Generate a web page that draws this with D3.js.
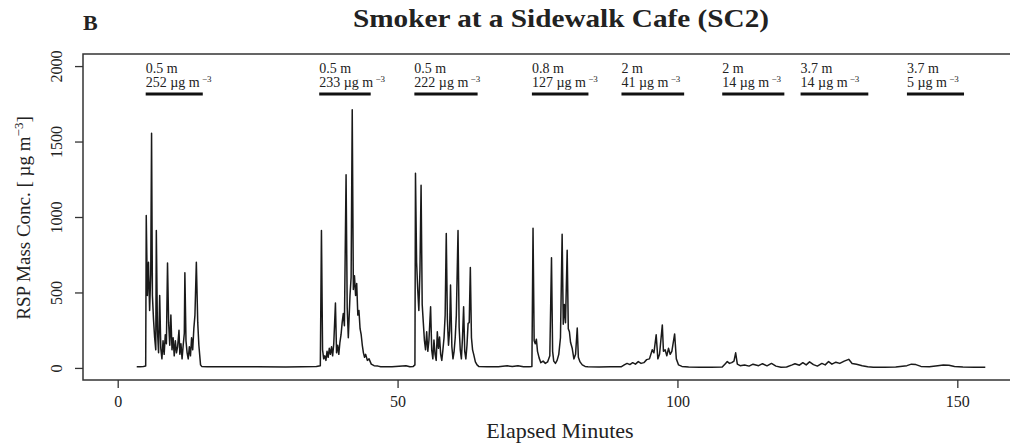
<!DOCTYPE html>
<html>
<head>
<meta charset="utf-8">
<script src="https://cdn.jsdelivr.net/npm/d3@7"></script>
<style>
  body { margin: 0; background: #fff; }
  text { font-family: "Liberation Serif", "Times New Roman", serif; fill: #222; }
</style>
</head>
<body>
<svg id="chart" width="1010" height="447"></svg>
<script>
// elapsed minute, RSP mass concentration (µg/m3)
const quiet0 = [[3.4,8],[4.0,8],[4.6,10],[5.0,12]];
const burst1 = [[5.1,1010],[5.3,480],[5.5,700],[5.7,380],[5.9,620],[6.05,1555],[6.2,480],[6.4,320],
  [6.6,200],[6.8,120],[6.9,910],[7.1,250],[7.3,100],[7.5,480],[7.7,130],[7.9,60],[8.1,180],[8.3,90],
  [8.5,220],[8.7,160],[8.9,695],[9.1,300],[9.3,150],[9.5,350],[9.7,120],[9.9,200],[10.1,80],[10.3,180],
  [10.5,100],[10.7,140],[10.95,250],[11.1,90],[11.3,160],[11.5,60],[11.7,150],[11.9,230],[12.0,630],
  [12.2,180],[12.4,100],[12.6,60],[12.8,140],[13.0,80],[13.2,200],[13.4,120],[13.6,260],[13.8,350],
  [14.05,700],[14.3,300],[14.5,150],[14.8,20],[15.0,10]];
const quiet1 = [[16,8],[18,7],[20,7],[25,8],[30,6],[33,8],[35.5,10],[36.2,15]];
const burst2 = [[36.4,910],[36.6,120],[36.8,60],[37.0,80],[37.2,50],[37.4,110],[37.6,70],[37.8,130],
  [38.0,90],[38.2,140],[38.4,80],[38.6,160],[38.9,430],[39.1,100],[39.3,150],[39.5,90],[39.7,170],
  [39.9,220],[40.1,300],[40.3,360],[40.5,280],[40.8,1280],[41.0,400],[41.2,200],[41.5,480],[41.7,600],
  [41.9,1710],[42.1,520],[42.3,610],[42.5,480],[42.7,560],[42.9,350],[43.1,380],[43.3,260],[43.5,220],
  [43.7,150],[43.9,100],[44.1,70],[44.3,90],[44.6,50],[44.9,60],[45.3,25],[45.8,15]];
const quiet2 = [[46.5,12],[47,8],[49,8],[51.5,15],[52.2,8],[52.8,10],[53.1,20]];
const burst3 = [[53.2,1290],[53.4,700],[53.6,520],[53.8,380],[54.0,650],[54.2,1210],[54.4,420],
  [54.6,300],[54.8,180],[55.0,120],[55.2,240],[55.4,110],[55.6,180],[55.9,405],[56.1,120],[56.3,60],
  [56.5,185],[56.7,90],[56.9,50],[57.1,240],[57.3,130],[57.5,205],[57.7,90],[57.9,50],[58.1,120],
  [58.3,200],[58.5,350],[58.7,890],[58.9,320],[59.1,150],[59.3,250],[59.46,550],[59.7,140],[59.9,60],
  [60.1,110],[60.3,200],[60.5,350],[60.8,910],[61.0,270],[61.2,120],[61.4,60],[61.6,200],[61.8,405],
  [62.0,110],[62.2,60],[62.4,150],[62.6,295],[62.8,300],[63.0,665],[63.2,200],[63.4,120],[63.6,90],
  [63.9,40],[64.2,20]];
const quiet3 = [[64.5,10],[66,8],[68,8],[69.6,14],[70.5,10],[71.5,15],[72.5,8],[73.5,8],[74.0,10]];
const burst4 = [[74.2,925],[74.4,180],[74.6,160],[74.8,190],[75.0,110],[75.3,65],[75.6,35],[76.0,45],
  [76.4,30],[76.8,40],[77.2,80],[77.5,730],[77.7,110],[77.9,45],[78.2,30],[78.5,50],[78.8,90],
  [79.1,200],[79.4,885],[79.6,290],[79.8,420],[80.0,300],[80.3,780],[80.5,260],[80.7,240],[80.9,170],
  [81.2,130],[81.5,60],[81.8,90],[82.1,265],[82.3,70],[82.6,40],[83.0,20],[83.5,10]];
const tail = [[84,8],[86,6],[88,7],[90,8],[90.5,20],[91,30],[91.5,22],[92,35],[92.5,25],[93,42],
  [93.5,30],[94,35],[94.5,55],[95,60],[95.5,120],[95.8,100],[96.2,220],[96.5,60],[96.8,90],[97.3,285],
  [97.5,110],[97.8,120],[98.1,80],[98.4,130],[98.7,90],[99.0,110],[99.5,225],[99.8,60],[100.2,20],
  [100.8,10],[102,6],[104,5],[106,5],[108,6],[108.6,30],[108.9,42],[109.3,30],[109.7,35],[110.1,45],
  [110.4,100],[110.7,25],[111.2,15],[112,20],[112.8,12],[113.5,25],[114.5,15],[115.2,28],[116,14],
  [116.8,30],[117.6,12],[118.5,5],[119.5,6],[120.5,20],[121,28],[121.8,18],[122.4,35],[123,20],
  [123.6,40],[124.3,22],[125,12],[125.8,30],[126.4,20],[127,42],[127.6,25],[128.3,38],[129,30],
  [129.8,45],[130.6,57],[131.2,30],[132,25],[133,15],[134,8],[135,5],[137,5],[139,6],[141,15],
  [141.8,25],[142.6,22],[143.5,10],[145,8],[146.5,15],[147.5,20],[148.5,18],[149.5,10],[151,6],
  [153,5],[155,5]];

// smoker-distance periods shown as bars at the top
const barStart = [5, 36, 53, 74, 90, 108, 122, 141];
const barEnd = [15.2, 45.2, 64.3, 84.1, 101.2, 119.1, 134.1, 151.2];
const distLabels = ['0.5 m', '0.5 m', '0.5 m', '0.8 m', '2 m', '2 m', '3.7 m', '3.7 m'];
const concLabels = ['252', '233', '222', '127', '41', '14', '14', '5'];

const xTicks = [0, 50, 100, 150];
const yTicks = [0, 500, 1000, 1500, 2000];

const series = [].concat(quiet0, burst1, quiet1, burst2, quiet2, burst3, quiet3, burst4, tail);

const svg = d3.select('#chart');
const plot = {left: 83, top: 54, right: 1020, bottom: 380};

const xScale = d3.scaleLinear().domain([-6.2, 161.2]).range([plot.left, plot.right]);
const yScale = d3.scaleLinear().domain([-80, 2080]).range([plot.bottom, plot.top]);

// title and panel letter
svg.append('text').attr('x', 83).attr('y', 30).attr('font-size', 22).attr('font-weight', 'bold').text('B');
svg.append('text').attr('x', 561).attr('y', 27).attr('text-anchor', 'middle')
  .attr('font-size', 25).attr('font-weight', 'bold')
  .attr('textLength', 416).attr('lengthAdjust', 'spacingAndGlyphs')
  .text('Smoker at a Sidewalk Cafe (SC2)');

// series
svg.append('path').datum(series)
  .attr('fill', 'none').attr('stroke', '#1a1a1a').attr('stroke-width', 1.5)
  .attr('stroke-linejoin', 'round')
  .attr('d', d3.line().x(d => xScale(d[0])).y(d => yScale(d[1])));

// axes
const xAxis = svg.append('g').attr('transform', `translate(0, ${plot.bottom})`)
  .call(d3.axisBottom(xScale).tickValues(xTicks).tickSize(8).tickFormat(d3.format('d')));
xAxis.select('.domain').remove();
xAxis.selectAll('line').attr('stroke', '#333').attr('stroke-width', 1.3);
xAxis.selectAll('text').attr('y', 27).attr('dy', null).attr('font-size', 16)
  .attr('font-family', '"Liberation Serif", serif').attr('fill', '#222');

const yAxis = svg.append('g').attr('transform', `translate(${plot.left}, 0)`)
  .call(d3.axisLeft(yScale).tickValues(yTicks).tickSize(8).tickFormat(d3.format('d')));
yAxis.select('.domain').remove();
yAxis.selectAll('line').attr('stroke', '#333').attr('stroke-width', 1.3);
yAxis.selectAll('text').attr('x', 0).attr('y', -21).attr('dy', null)
  .attr('text-anchor', 'middle').attr('transform', 'rotate(-90)').attr('font-size', 16)
  .attr('font-family', '"Liberation Serif", serif').attr('fill', '#222');

// box
svg.append('rect').attr('x', plot.left).attr('y', plot.top)
  .attr('width', plot.right - plot.left).attr('height', plot.bottom - plot.top)
  .attr('fill', 'none').attr('stroke', '#333').attr('stroke-width', 1.5);

// axis titles
svg.append('text').attr('x', 560).attr('y', 438).attr('text-anchor', 'middle').attr('font-size', 22)
  .text('Elapsed Minutes');
const yl = svg.append('text').attr('transform', 'translate(30, 218) rotate(-90)')
  .attr('text-anchor', 'middle').attr('font-size', 19);
yl.append('tspan').text('RSP Mass Conc. [  µg m');
yl.append('tspan').attr('dy', -7).attr('font-size', 13).text('−3');
yl.append('tspan').attr('dy', 7).text(']');

// distance annotations
const ann = svg.append('g').selectAll('g').data(barStart).join('g');
ann.append('line')
  .attr('x1', d => xScale(d)).attr('x2', (d, i) => xScale(barEnd[i]))
  .attr('y1', 94).attr('y2', 94).attr('stroke', '#111').attr('stroke-width', 3);
ann.append('text').attr('x', d => xScale(d)).attr('y', 73).attr('font-size', 14)
  .text((d, i) => distLabels[i]);
const conc = ann.append('text').attr('x', d => xScale(d)).attr('y', 87).attr('font-size', 14);
conc.append('tspan').text((d, i) => concLabels[i] + '  µg m');
conc.append('tspan').attr('dy', -5).attr('font-size', 9).text(' −3');
</script>
</body>
</html>
